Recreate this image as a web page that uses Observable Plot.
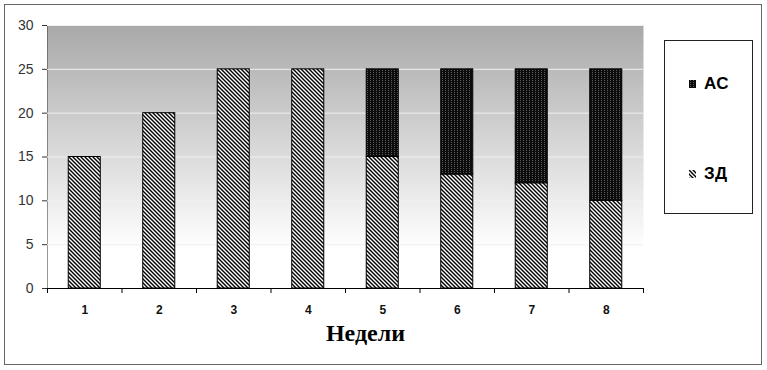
<!DOCTYPE html>
<html><head><meta charset="utf-8">
<script src="https://cdn.jsdelivr.net/npm/d3@7"></script>
<script src="https://cdn.jsdelivr.net/npm/@observablehq/plot@0.6"></script>
<style>
body{margin:0;background:#fff;}
#wrap{position:relative;width:767px;height:370px;overflow:hidden;}
#outer{position:absolute;left:4px;top:4px;width:758px;height:361px;border:1px solid #666;box-sizing:border-box;pointer-events:none;}
#legend{position:absolute;left:664px;top:40px;width:89px;height:174px;border:1px solid #222;box-sizing:border-box;background:#fff;font-family:"Liberation Sans",Arial,sans-serif;font-weight:bold;font-size:17px;letter-spacing:0.3px;color:#000;}
.item{position:absolute;left:24px;display:flex;align-items:center;gap:8px;height:18px;}
.item svg{display:block}
#chart{position:absolute;left:0;top:0;}
</style></head>
<body>
<svg width="0" height="0" style="position:absolute">
  <defs>
    <linearGradient id="bg" x1="0" y1="0" x2="0" y2="1">
      <stop offset="0" stop-color="#a9a9a9"/>
      <stop offset="0.85" stop-color="#ffffff"/>
      <stop offset="1" stop-color="#ffffff"/>
    </linearGradient>
    <pattern id="pZD" patternUnits="userSpaceOnUse" width="4" height="4">
      <rect width="4" height="4" fill="#fff"/>
      <path d="M-1,-1L5,5M3,-1L5,1M-1,3L1,5" stroke="#000" stroke-width="1.4"/>
    </pattern>
    <pattern id="pAS" patternUnits="userSpaceOnUse" width="3" height="2">
      <rect width="3" height="2" fill="#0c0c0c"/>
      <rect x="1" y="0" width="1" height="1" fill="#5a5a5a"/>
    </pattern>
  </defs>
</svg>
<div id="wrap">
  <div id="chart"></div>
  <div id="outer"></div>
  <div id="legend"></div>
</div>
<script>
const weeks = ["1","2","3","4","5","6","7","8"];
const zdValues = [15,20,25,25,15,13,12,10];
const asValues = [0,0,0,0,10,12,13,15];
const seriesNames = ["АС","ЗД"];
const seriesFills = ["url(#pAS)","url(#pZD)"];
const yTicks = [0,5,10,15,20,25,30];
const xTitle = "Недели";

const rows = [];
weeks.forEach((w,i)=>{ rows.push({week:w, series:"ЗД", value:zdValues[i]}); });
weeks.forEach((w,i)=>{ if (asValues[i] > 0) rows.push({week:w, series:"АС", value:asValues[i]}); });

const W = 767, H = 370, mL = 47, mR = 124, mT = 25, mB = 82;
const step = (W - mL - mR) / weeks.length;

const chart = Plot.plot({
  width: W, height: H,
  marginLeft: mL, marginRight: mR, marginTop: mT, marginBottom: mB,
  style: {fontFamily: "'Liberation Sans', Arial, sans-serif", fontSize: "14px", color: "#333", background: "transparent"},
  x: {domain: weeks, paddingInner: 0.57, paddingOuter: 0.285, round: false, axis: null},
  y: {domain: [0, 30], ticks: yTicks, tickSize: 5, tickPadding: 9, line: true, label: null},
  color: {domain: seriesNames, range: seriesFills},
  marks: [
    Plot.frame({fill: "url(#bg)", stroke: "none"}),
    Plot.ruleY(yTicks.filter(d => d > 0), {stroke: "#f0f0f0", strokeWidth: 1}),
    Plot.barY(rows, Plot.stackY({x: "week", y: "value", fill: "series", order: ["ЗД","АС"], stroke: "#000", strokeWidth: 1})),
    Plot.ruleY([0], {stroke: "#000", strokeWidth: 1.2}),
    Plot.ruleX(weeks, {x: d => d, y1: 0, y2: 0, insetBottom: -5, dx: -step/2, stroke: "#000"}),
    Plot.ruleX(weeks.slice(-1), {x: d => d, y1: 0, y2: 0, insetBottom: -5, dx: step/2, stroke: "#000"}),
    Plot.text(weeks, {x: d => d, frameAnchor: "bottom", dy: 25, fontWeight: "bold", fontSize: 12, fill: "#111"}),
    Plot.text([xTitle], {text: d => d, frameAnchor: "bottom", dx: 20, dy: 52, fontFamily: "'Liberation Serif', 'Times New Roman', serif", fontWeight: "bold", fontSize: 24, fill: "#000"})
  ]
});
document.getElementById("chart").appendChild(chart);

const legend = document.getElementById("legend");
const legendTops = [34, 124];
seriesNames.forEach((name, i) => {
  const it = document.createElement("div");
  it.className = "item";
  it.style.top = legendTops[i] + "px";
  it.innerHTML = `<svg width="7" height="8"><rect x="0" y="0" width="7" height="8" fill="${seriesFills[i]}"/></svg><span>${name}</span>`;
  legend.appendChild(it);
});
</script>
</body></html>
